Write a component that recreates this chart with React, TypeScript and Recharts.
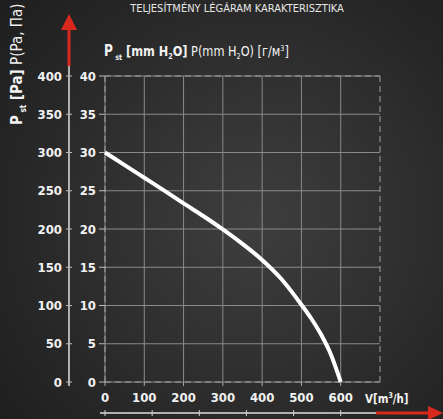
import React from "react";
import {
  LineChart,
  Line,
  XAxis,
  YAxis,
  CartesianGrid,
  ReferenceLine,
} from "recharts";

// airflow V [m3/h] and static pressure P [mm H2O]
const flow = [0, 50, 100, 150, 200, 250, 300, 350, 400, 450, 500, 525, 550, 575, 600];
const pressureMm = [30, 28.35, 26.7, 25.05, 23.35, 21.7, 19.95, 18.05, 15.95, 13.4, 10.1, 8.3, 6.2, 3.6, 0];

const flowTicks = [0, 100, 200, 300, 400, 500, 600];
const outerFlowTicks = [0, 120, 240, 360, 480, 600];
const mmTicks = [0, 5, 10, 15, 20, 25, 30, 35, 40];
const paTicks = [0, 50, 100, 150, 200, 250, 300, 350, 400];

const title = "TELJESÍTMÉNY LÉGÁRAM KARAKTERISZTIKA";

// 1 mm H2O ~ 10 Pa
const data = flow.map((v, i) => ({ v, p: pressureMm[i], pa: pressureMm[i] * 10 }));

const FONT = "'Liberation Sans Narrow', 'DejaVu Sans Condensed', sans-serif";
const W = 443;
const H = 419;

const PaTick = (props: any) => {
  const { x, y, payload } = props;
  const ax = x + 8;
  return (
    <g>
      <line x1={ax - 3} x2={ax + 3} y1={y} y2={y} stroke="#bbb" strokeWidth={1} />
      <text
        x={x + 1}
        y={y}
        dy="0.36em"
        textAnchor="end"
        fill="#f2f2f2"
        fontSize={13}
        fontWeight="bold"
        fontFamily={FONT}
      >
        {payload.value}
      </text>
    </g>
  );
};

const OuterXTick = (props: any) => {
  const { x, y } = props;
  return <line x1={x} x2={x} y1={y - 3} y2={y + 3} stroke="#d0d0d0" strokeWidth={1} />;
};

export default function App() {
  const tickStyle = { fill: "#f2f2f2", fontSize: 13, fontWeight: "bold", fontFamily: FONT };
  return (
    <div
      style={{
        position: "absolute",
        left: 0,
        top: 0,
        width: W,
        height: H,
        background:
          "radial-gradient(circle at 57% 52%, #3e3e3e 0%, #333 35%, #272727 70%, #1e1e1e 100%)",
        overflow: "hidden",
      }}
    >
      <svg
        width={W}
        height={H}
        style={{ position: "absolute", left: 0, top: 0, pointerEvents: "none" }}
      >
        {/* outer axes */}
        <line x1={69} x2={69} y1={64} y2={386} stroke="#b0b0b0" strokeWidth={2} />
        <line x1={69} x2={69} y1={66} y2={28} stroke="#d9281e" strokeWidth={3} />
        <polygon points="69,14 61,30 77,30" fill="#d9281e" />
        <line x1={100} x2={378} y1={413} y2={413} stroke="#b0b0b0" strokeWidth={2} />
        <line x1={376} x2={430} y1={413} y2={413} stroke="#d9281e" strokeWidth={3} />
        <polygon points="443,413 428,406 428,420" fill="#d9281e" />
      </svg>
      <div style={{ position: "absolute", left: 0, top: 0 }}>
        <LineChart
          width={W}
          height={H}
          data={data}
          margin={{ top: 76, right: 63, bottom: 0, left: 33 }}
        >
          <CartesianGrid
            xAxisId="flow"
            yAxisId="mm"
            stroke="#8a8a8a"
            strokeWidth={1}
            horizontalValues={mmTicks}
            verticalValues={flowTicks}
          />
          <XAxis
            xAxisId="flow"
            dataKey="v"
            type="number"
            domain={[0, 700]}
            ticks={flowTicks}
            interval={0}
            axisLine={false}
            tickLine={{ stroke: "#aaa" }}
            tickSize={4}
            tickMargin={7}
            height={31}
            tick={tickStyle}
          />
          <XAxis
            xAxisId="outer"
            dataKey="v"
            type="number"
            domain={[0, 700]}
            ticks={outerFlowTicks}
            interval={0}
            axisLine={false}
            tickLine={false}
            tickSize={0}
            tickMargin={0}
            height={6}
            tick={<OuterXTick />}
          />
          <YAxis
            yAxisId="mm"
            type="number"
            domain={[0, 40]}
            ticks={mmTicks}
            interval={0}
            axisLine={false}
            tickLine={{ stroke: "#bbb" }}
            tickSize={6}
            tickMargin={3}
            width={36}
            tick={tickStyle}
          />
          <YAxis
            yAxisId="pa"
            type="number"
            domain={[0, 400]}
            ticks={paTicks}
            interval={0}
            axisLine={false}
            tickLine={false}
            tickSize={6}
            tickMargin={2}
            width={36}
            tick={<PaTick />}
          />
          <ReferenceLine xAxisId="flow" yAxisId="mm" x={0} stroke="#a0a0a0" strokeDasharray="6 4" />
          <ReferenceLine xAxisId="flow" yAxisId="mm" x={700} stroke="#a0a0a0" strokeDasharray="6 4" />
          <ReferenceLine xAxisId="flow" yAxisId="mm" y={0} stroke="#a0a0a0" strokeDasharray="6 4" />
          <ReferenceLine xAxisId="flow" yAxisId="mm" y={40} stroke="#a0a0a0" strokeDasharray="6 4" />
          {/* same curve in Pa, only to bind the outer axes */}
          <Line
            xAxisId="outer"
            yAxisId="pa"
            type="monotone"
            dataKey="pa"
            stroke="none"
            dot={false}
            isAnimationActive={false}
          />
          <Line
            xAxisId="flow"
            yAxisId="mm"
            type="monotone"
            dataKey="p"
            stroke="#ffffff"
            strokeWidth={4}
            dot={false}
            isAnimationActive={false}
          />
        </LineChart>
      </div>
      <svg
        width={W}
        height={H}
        style={{ position: "absolute", left: 0, top: 0, pointerEvents: "none" }}
      >
        <text x={237} y={12} textAnchor="middle" fill="#e6e6e6" fontSize={11} fontFamily={FONT}>
          {title}
        </text>
        <text
          transform="translate(104,56) scale(0.9,1)"
          fill="#f2f2f2"
          fontFamily={FONT}
          fontSize={14}
        >
          <tspan fontWeight="bold" fontSize={15}>P</tspan>
          <tspan fontSize={8} dy={4} fontWeight="bold"> st</tspan>
          <tspan dy={-4} fontWeight="bold"> [mm H</tspan>
          <tspan fontSize={8} dy={3} fontWeight="bold">2</tspan>
          <tspan dy={-3} fontWeight="bold">O]</tspan>
          <tspan> P(mm H</tspan>
          <tspan fontSize={8} dy={3}>2</tspan>
          <tspan dy={-3}>O) [г/м</tspan>
          <tspan fontSize={8} dy={-5}>3</tspan>
          <tspan dy={5}>]</tspan>
        </text>
        <text
          transform="translate(22,125) rotate(-90)"
          fill="#f2f2f2"
          fontFamily={FONT}
          fontSize={15}
        >
          <tspan fontWeight="bold" fontSize={15}>P</tspan>
          <tspan fontSize={8} dy={4} fontWeight="bold"> st</tspan>
          <tspan dy={-4} fontWeight="bold"> [Pa]</tspan>
          <tspan> P(Pa, Па)</tspan>
        </text>
        <text
          transform="translate(365,403) scale(0.88,1)"
          fill="#f2f2f2"
          fontFamily={FONT}
          fontSize={13}
          fontWeight="bold"
        >
          V[m<tspan fontSize={8} dy={-5}>3</tspan>
          <tspan dy={5}>/h]</tspan>
        </text>
      </svg>
    </div>
  );
}
